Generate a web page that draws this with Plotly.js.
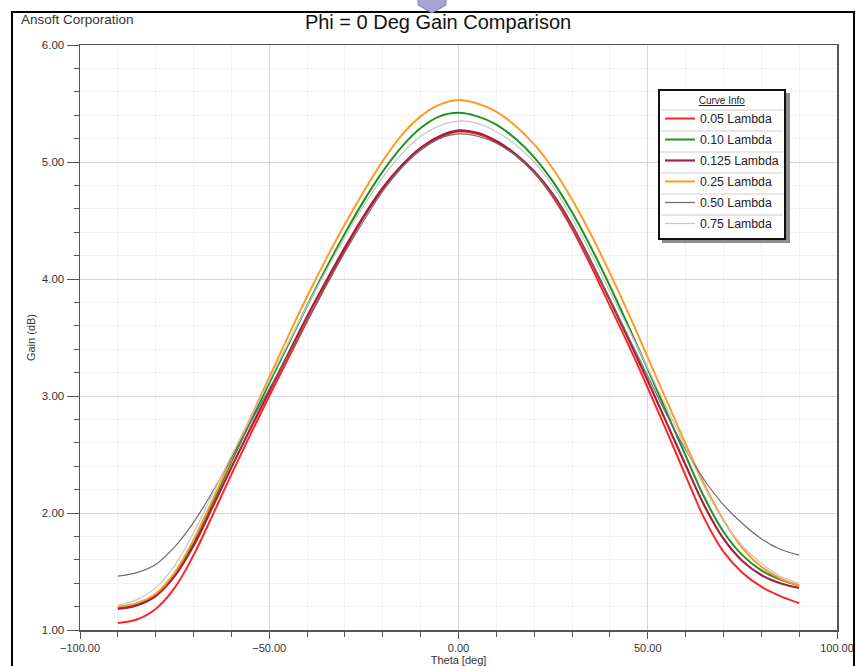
<!DOCTYPE html>
<html><head><meta charset="utf-8">
<script src="https://cdn.plot.ly/plotly-3.0.1.min.js"></script>
<style>html,body{margin:0;padding:0;background:#fff}#chart{width:857px;height:666px}</style>
</head><body><div id="chart"></div>
<script>
// ---- data (Theta in deg, Gain in dB) ----
const theta = [-90,-85,-80,-75,-70,-65,-60,-55,-50,-45,-40,-35,-30,-25,-20,-15,-10,-5,0,
               5,10,15,20,25,30,35,40,45,50,55,60,65,70,75,80,85,90];
const seriesNames = ['0.05 Lambda','0.10 Lambda','0.125 Lambda','0.25 Lambda','0.50 Lambda','0.75 Lambda'];
const gain005  = [1.06,1.09,1.18,1.36,1.64,1.98,2.33,2.67,3.00,3.32,3.64,3.95,4.25,4.53,4.77,4.97,5.12,5.21,5.26,
                  5.24,5.17,5.06,4.91,4.70,4.43,4.11,3.77,3.43,3.07,2.70,2.32,1.95,1.67,1.49,1.37,1.29,1.23];
const gain010  = [1.19,1.22,1.30,1.48,1.75,2.09,2.44,2.78,3.11,3.44,3.77,4.09,4.39,4.67,4.92,5.13,5.29,5.39,5.42,
                  5.39,5.32,5.20,5.04,4.83,4.57,4.27,3.94,3.59,3.23,2.86,2.49,2.13,1.84,1.64,1.51,1.43,1.38];
const gain0125 = [1.18,1.21,1.29,1.46,1.72,2.05,2.39,2.72,3.04,3.36,3.68,3.98,4.27,4.54,4.78,4.97,5.12,5.22,5.27,
                  5.25,5.18,5.07,4.92,4.72,4.46,4.15,3.82,3.48,3.13,2.77,2.41,2.06,1.78,1.59,1.47,1.40,1.36];
const gain025  = [1.20,1.23,1.31,1.49,1.77,2.11,2.46,2.81,3.16,3.51,3.85,4.17,4.47,4.75,5.01,5.23,5.39,5.49,5.53,
                  5.50,5.43,5.31,5.15,4.94,4.68,4.38,4.05,3.70,3.33,2.96,2.59,2.24,1.94,1.70,1.54,1.44,1.38];
const gain050  = [1.46,1.49,1.56,1.71,1.92,2.18,2.47,2.77,3.06,3.35,3.64,3.94,4.23,4.50,4.75,4.95,5.10,5.20,5.24,
                  5.22,5.16,5.06,4.91,4.71,4.45,4.15,3.83,3.50,3.17,2.84,2.54,2.28,2.07,1.91,1.78,1.69,1.64];
const gain075  = [1.21,1.26,1.36,1.55,1.83,2.16,2.49,2.81,3.13,3.45,3.77,4.07,4.36,4.63,4.87,5.07,5.22,5.31,5.35,
                  5.33,5.26,5.15,5.00,4.79,4.52,4.22,3.89,3.57,3.24,2.90,2.56,2.22,1.93,1.72,1.57,1.46,1.40];
const xTickVals = [-100,-50,0,50,100];
const yTickVals = [1,2,3,4,5,6];

// ---- styling ----
const allSeries = [gain005,gain010,gain0125,gain025,gain050,gain075];
const colors = ['#ff2424','#1c921f','#a5203e','#ff9a24','#6c6c6c','#c6c6c6'];
const widths = [2,2,2.2,2,1.2,1.2];
const FONT = 'Liberation Sans, Arial, sans-serif';

const L=80,R=837,T=45,B=630;
const px = x => (x-L)/(R-L);
const py = y => (B-y)/(B-T);

const traces = allSeries.map((g,i)=>({
  x: theta, y: g, type:'scatter', mode:'lines', name: seriesNames[i],
  legendgroup: 'g'+i,
  line:{color:colors[i], width:widths[i], shape:'spline', smoothing:1}
}));

// legend box geometry (pixels)
const LG = {x0:658, x1:786, y0:89, y1:239};
const shapes = [
  {type:'rect', xref:'paper', yref:'paper', x0:px(12), x1:px(854), y0:py(12), y1:py(700),
   line:{color:'#000', width:2}, fillcolor:'rgba(0,0,0,0)', layer:'above'},
  {type:'path', xref:'paper', yref:'paper',
   path:`M ${px(418)},${py(-2)} L ${px(446)},${py(-2)} L ${px(446)},${py(5)} L ${px(432)},${py(13)} L ${px(418)},${py(5)} Z`,
   fillcolor:'#a7a3d2', line:{color:'#8581b5', width:1}, layer:'above'},
  {type:'rect', xref:'paper', yref:'paper', x0:px(LG.x0+4), x1:px(LG.x1+4), y0:py(LG.y0+4), y1:py(LG.y1+4),
   fillcolor:'#8c8c8c', line:{width:0}, layer:'above'},
  {type:'rect', xref:'paper', yref:'paper', x0:px(LG.x0), x1:px(LG.x1), y0:py(LG.y0), y1:py(LG.y1),
   fillcolor:'#ffffff', line:{width:0}, layer:'above'}
];
[110,131,152,173,194,215].forEach(yy=>{
  shapes.push({type:'line', xref:'paper', yref:'paper', x0:px(LG.x0+3), x1:px(LG.x1-3), y0:py(yy), y1:py(yy),
    line:{color:'#cfcfcf', width:1}, layer:'above'});
});

const layout = {
  width:857, height:666,
  margin:{l:L, r:857-R, t:T, b:666-B},
  paper_bgcolor:'#fff', plot_bgcolor:'#fff',
  font:{family:FONT, color:'#333', size:11},
  title:{text:'Phi = 0 Deg Gain Comparison', x:438/857, xanchor:'center', xref:'container',
    y:1-22/666, yanchor:'middle', yref:'container', font:{family:FONT, size:20, color:'#111'}},
  showlegend:true,
  legend:{x:px(LG.x0), y:py(LG.y0), xanchor:'left', yanchor:'top', xref:'paper', yref:'paper',
    bgcolor:'rgba(0,0,0,0)', bordercolor:'#111', borderwidth:2,
    font:{family:FONT, size:12.3, color:'#222'}, tracegroupgap:2,
    title:{text:'<u>Curve Info</u>', side:'top center', font:{family:FONT, size:10, color:'#222'}},
    itemwidth:30},
  xaxis:{range:[-100,100], tickvals:xTickVals, tickformat:'.2f', ticks:'outside', ticklen:7, tickwidth:1,
    tickcolor:'#555', showline:true, linecolor:'#555', linewidth:1.5, mirror:true,
    showgrid:true, gridcolor:'#d6d6d6', gridwidth:1, zeroline:false,
    tickfont:{family:FONT, size:11, color:'#333'},
    minor:{dtick:10, ticks:'outside', ticklen:5, tickcolor:'#555', showgrid:true, gridcolor:'#f1f1f1'},
    title:{text:'Theta [deg]', font:{family:FONT, size:11, color:'#333'}, standoff:2}},
  yaxis:{range:[1,6], tickvals:yTickVals, tickformat:'.2f', ticks:'outside', ticklen:12, tickwidth:1,
    tickcolor:'#555', showline:true, linecolor:'#555', linewidth:1.5, mirror:true,
    showgrid:true, gridcolor:'#d6d6d6', gridwidth:1, zeroline:false,
    tickfont:{family:FONT, size:11.5, color:'#333'},
    minor:{dtick:0.2, ticks:'outside', ticklen:5, tickcolor:'#555', showgrid:true, gridcolor:'#f1f1f1'},
    title:{text:'Gain (dB)', font:{family:FONT, size:11, color:'#333'}, standoff:4}},
  shapes: shapes,
  annotations:[
    {text:'Ansoft Corporation', xref:'paper', yref:'paper', x:px(19), y:py(20), xanchor:'left', yanchor:'middle',
     showarrow:false, font:{family:FONT, size:13.5, color:'#333'}}
  ]
};

Plotly.newPlot('chart', traces, layout, {displayModeBar:false, staticPlot:true});
</script></body></html>
